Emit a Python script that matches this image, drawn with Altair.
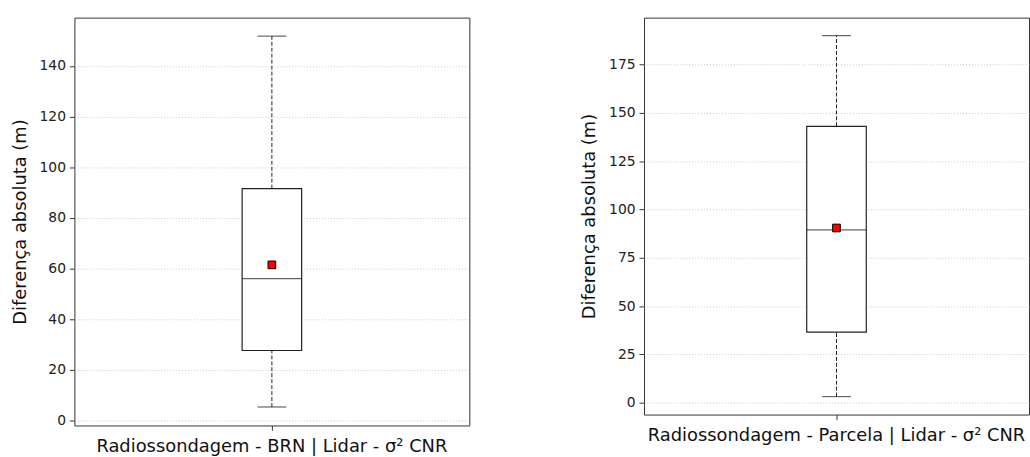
import altair as alt
import pandas as pd

# Panel labels
labels = ["Radiossondagem - BRN | Lidar - σ² CNR",
          "Radiossondagem - Parcela | Lidar - σ² CNR"]
# Box statistics (m)
whisker_low = [5.4, 3.2]
q1 = [27.7, 36.5]
median = [56.1, 89.4]
q3 = [91.6, 143.0]
whisker_high = [151.8, 189.9]
mean = [61.5, 90.4]
# axis settings
y_domains = [[-1.9, 159.1], [-6.1, 199.2]]
y_ticks = [list(range(0, 141, 20)), list(range(0, 176, 25))]
widths = [398, 388]
heights = [411, 400]

FONT = "DejaVu Sans"


def panel(i):
    df = pd.DataFrame({
        "label": [labels[i]],
        "lo": [whisker_low[i]], "q1": [q1[i]], "med": [median[i]],
        "q3": [q3[i]], "hi": [whisker_high[i]], "mean": [mean[i]],
    })
    x = alt.X("label:N", title=None,
              axis=alt.Axis(labelAngle=0, labelFontSize=18, labelFont=FONT,
                            labelColor="#111", labelLimit=800, tickSize=5,
                            tickColor="#333", labelPadding=7, domain=False,
                            grid=False))
    yscale = alt.Scale(domain=y_domains[i], nice=False, zero=False)
    yaxis = alt.Axis(values=y_ticks[i], title="Diferença absoluta (m)",
                     titleFontSize=18, titleFont=FONT, titleFontWeight="normal",
                     titleColor="#111", titlePadding=10,
                     labelFontSize=14, labelFont=FONT, labelColor="#222",
                     tickSize=5, tickColor="#333", labelPadding=4,
                     domain=False, grid=True, gridColor="#b8b8b8",
                     gridDash=[1, 2], gridWidth=0.8)
    base = alt.Chart(df)
    w_low = base.mark_rule(color="#222", strokeDash=[4, 2], strokeWidth=1).encode(
        x=x, y=alt.Y("lo:Q", scale=yscale, axis=yaxis), y2="q1:Q")
    w_high = base.mark_rule(color="#222", strokeDash=[4, 2], strokeWidth=1).encode(
        x=x, y=alt.Y("q3:Q", scale=yscale), y2="hi:Q")
    box = base.mark_bar(size=60, fill="white", stroke="#222", strokeWidth=1.2).encode(
        x=x, y=alt.Y("q1:Q", scale=yscale), y2="q3:Q")
    med = base.mark_tick(size=60, thickness=1.3, color="#222").encode(
        x=x, y=alt.Y("med:Q", scale=yscale))
    cap_lo = base.mark_tick(size=29, thickness=1.2, color="#222").encode(
        x=x, y=alt.Y("lo:Q", scale=yscale))
    cap_hi = base.mark_tick(size=29, thickness=1.2, color="#222").encode(
        x=x, y=alt.Y("hi:Q", scale=yscale))
    mn = base.mark_point(shape="square", filled=True, size=60, fill="red",
                         stroke="black", strokeWidth=1, opacity=1).encode(
        x=x, y=alt.Y("mean:Q", scale=yscale))
    return alt.layer(w_low, w_high, box, med, cap_lo, cap_hi, mn).properties(
        width=widths[i], height=heights[i])


chart = alt.hconcat(panel(0), panel(1), spacing=110).properties(
    padding={"left": 10, "top": 15, "right": 0, "bottom": 0},
    background="white",
).configure_view(stroke="#333", strokeWidth=1)

chart.save("out.html", embed_options={"renderer": "svg", "actions": False})
